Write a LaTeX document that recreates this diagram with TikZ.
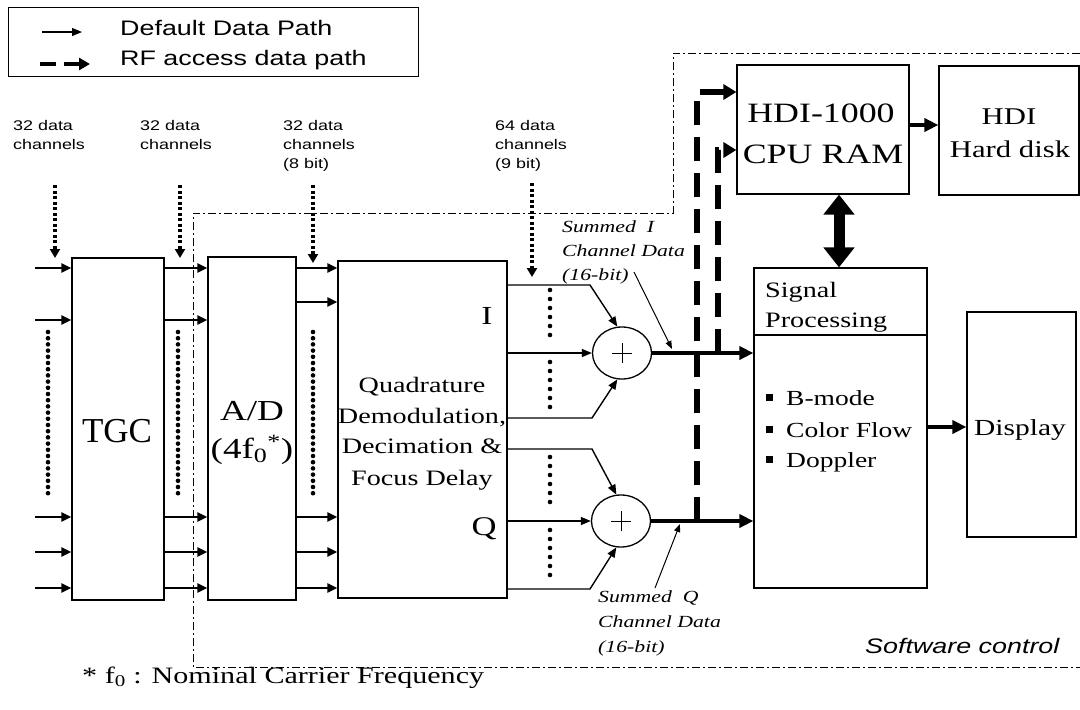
\documentclass[tikz,border=0pt]{standalone}
\usepackage{fontspec}
\setmainfont{Liberation Serif}[FakeStretch=1.28]
\setsansfont{Liberation Sans}[FakeStretch=1.28]
\newfontfamily\plainserif{Liberation Serif}
\usetikzlibrary{arrows.meta,shapes.geometric}
\newcommand\myfs[1]{\fontsize{#1}{#1}\selectfont}
\begin{document}
\begin{tikzpicture}[x=1pt,y=-1pt,
  box/.style={draw, line width=1.2pt, inner sep=0pt},
  sumnode/.style={draw, ellipse, line width=1.3pt, inner sep=0pt, minimum width=59pt, minimum height=52pt},
  txt/.style={inner sep=0pt, anchor=base},
  ltxt/.style={inner sep=0pt, anchor=base west},
  chl/.style={ltxt, font=\sffamily\myfs{14}},
  ann/.style={ltxt, font=\itshape\myfs{17}},
  arr/.style={line width=2.6pt, -{Triangle[length=10pt,width=9pt]}},
  thinarr/.style={line width=1.4pt, -{Triangle[length=10pt,width=8pt]}},
  ptr/.style={line width=1pt, -{Triangle[length=8pt,width=6pt]}},
  bigarr/.style={line width=4pt, -{Triangle[length=14pt,width=13pt]}},
  dotarr/.style={line width=3.3pt, dash pattern=on 3pt off 2.5pt, -{Triangle[length=9pt,width=10pt]}},
  dotcol/.style={line width=4.6pt, line cap=round, dash pattern=on 0pt off 6.2pt},
  dotcolb/.style={line width=4.6pt, line cap=round, dash pattern=on 0pt off 9pt},
  tdash/.style={line width=6pt, dash pattern=on 24pt off 12pt, -{Triangle[length=13pt,width=15pt]}},
  legdash/.style={line width=4pt, dash pattern=on 16pt off 8pt, -{Triangle[length=11pt,width=12pt]}},
  dbl/.style={line width=11pt, {Triangle[length=20pt,width=30pt]}-{Triangle[length=20pt,width=30pt]}},
  swline/.style={line width=1pt, dash pattern=on 8pt off 3pt on 2pt off 3pt}
]
\useasboundingbox (0,0) rectangle (1080,710);
\fill[white] (0,0) rectangle (1080,710);

% legend
\node[box, anchor=north west, minimum width=410pt, minimum height=69pt] (legend) at (8,7) {};
\node[ltxt, font=\sffamily\myfs{21}] (lg1) at (120,35) {Default Data Path};
\node[ltxt, font=\sffamily\myfs{21}] (lg2) at (120,65) {RF access data path};
\coordinate (la1) at (42,32); \coordinate (lb1) at (82,32);
\draw[thinarr, line width=1.2pt] (la1) -- (lb1);
\coordinate (la2) at (40,64); \coordinate (lb2) at (90,64);
\draw[legdash] (la2) -- (lb2);

% channel labels
\node[chl] (c1a) at (13,130) {32 data};
\node[chl] (c1b) at (13,149) {channels};
\node[chl] (c2a) at (140,130) {32 data};
\node[chl] (c2b) at (140,149) {channels};
\node[chl] (c3a) at (283,130) {32 data};
\node[chl] (c3b) at (283,149) {channels};
\node[chl] (c3c) at (283,168) {(8 bit)};
\node[chl] (c4a) at (495,130) {64 data};
\node[chl] (c4b) at (495,149) {channels};
\node[chl] (c4c) at (495,168) {(9 bit)};

% software control boundary
\draw[swline] (1080,53) -- (673,53) -- (673,213) -- (193,213) -- (193,667) -- (1080,667);
\node[ltxt, font=\sffamily\itshape\myfs{21}] (swc) at (865,653) {Software control};

% boxes
\node[box, minimum width=92pt, minimum height=342pt] (tgc) at (118,429) {};
\node[box, minimum width=88pt, minimum height=343pt] (ad) at (252,428.5) {};
\node[box, minimum width=169pt, minimum height=337pt] (qd) at (422.5,429.5) {};
\node[box, minimum width=172pt, minimum height=129pt] (hdi) at (823,129.5) {};
\node[box, minimum width=140pt, minimum height=129pt] (hd) at (1009,130.5) {};
\node[box, minimum width=173pt, minimum height=320pt] (sp) at (840.5,428) {};
\node[box, minimum width=109pt, minimum height=225pt] (disp) at (1021.5,424.5) {};
\node[sumnode] (sumI) at (622,353) {};
\node[sumnode] (sumQ) at (621,521) {};
\draw[line width=1.2pt] (sp.west |- 0,335) -- (sp.east |- 0,335);
\draw[line width=0.8pt] ([xshift=-10pt]sumI.center) -- ([xshift=10pt]sumI.center)
  ([yshift=-10pt]sumI.center) -- ([yshift=10pt]sumI.center);
\draw[line width=0.8pt] ([xshift=-10pt]sumQ.center) -- ([xshift=10pt]sumQ.center)
  ([yshift=-10pt]sumQ.center) -- ([yshift=10pt]sumQ.center);

% box texts
\node[txt, font=\plainserif\myfs{35}] (tgct) at (117,442) {TGC};
\node[txt, font=\myfs{29}] (adt1) at (252,420) {A/D};
\node[txt, font=\myfs{29}] (adt2) at (252,458) {(4f\textsubscript{0}\textsuperscript{*})};
\node[txt, font=\myfs{22}] (qdt1) at (422,392) {Quadrature};
\node[txt, font=\myfs{22}] (qdt2) at (422,423) {Demodulation,};
\node[txt, font=\myfs{22}] (qdt3) at (422,453) {Decimation \&};
\node[txt, font=\myfs{22}] (qdt4) at (422,485) {Focus Delay};
\node[txt, font=\myfs{26}] (ilbl) at (487,324) {I};
\node[txt, font=\myfs{27}] (qlbl) at (484,535) {Q};
\node[txt, font=\myfs{28}] (hdit1) at (821,122) {HDI-1000};
\node[txt, font=\myfs{28}] (hdit2) at (823,163) {CPU RAM};
\node[txt, font=\myfs{24}] (hdt1) at (1009,124) {HDI};
\node[txt, font=\myfs{24}] (hdt2) at (1010,157) {Hard disk};
\node[ltxt, font=\myfs{22}] (spt1) at (765,297) {Signal};
\node[ltxt, font=\myfs{22}] (spt2) at (765,327) {Processing};
\node[ltxt, font=\myfs{21.5}] (b1) at (766,405) {\raisebox{4pt}{\rule{7pt}{7pt}}\hspace{13pt}B-mode};
\node[ltxt, font=\myfs{21.5}] (b2) at (766,437) {\raisebox{4pt}{\rule{7pt}{7pt}}\hspace{13pt}Color Flow};
\node[ltxt, font=\myfs{21.5}] (b3) at (766,467) {\raisebox{4pt}{\rule{7pt}{7pt}}\hspace{13pt}Doppler};
\node[txt, font=\myfs{23}] (dispt) at (1020,435) {Display};
\node[ltxt, font=\myfs{23.5}] (foot) at (82,683) {* f\textsubscript{0} : Nominal Carrier Frequency};

% annotations
\node[ann] (aI1) at (562,232) {Summed\ \ I};
\node[ann] (aI2) at (562,256) {Channel Data};
\node[ann] (aI3) at (562,280) {(16-bit)};
\node[ann] (aQ1) at (598,602) {Summed\ \ Q};
\node[ann] (aQ2) at (598,627) {Channel Data};
\node[ann] (aQ3) at (598,652) {(16-bit)};
\coordinate (pI0) at (634,272); \coordinate (pI1) at (672,349);
\draw[ptr] (pI0) -- (pI1);
\coordinate (pQ0) at (655,588); \coordinate (pQ1) at (680,524);
\draw[ptr] (pQ0) -- (pQ1);

% input / inter-stage arrows
\foreach \y in {268,320,517,552,588} {
  \coordinate (in\y) at (35,\y);
  \draw[arr] (in\y) -- (in\y -| tgc.west);
  \draw[arr] (tgc.east |- 0,\y) -- (ad.west |- 0,\y);
}
\foreach \y in {268,302,517,552,588} {
  \draw[arr] (ad.east |- 0,\y) -- (qd.west |- 0,\y);
}
% dotted arrows from labels
\coordinate (d1) at (55,185); \draw[dotarr] (d1) -- (d1 |- 0,258);
\coordinate (d2) at (180,185); \draw[dotarr] (d2) -- (d2 |- 0,258);
\coordinate (d3) at (313,185); \draw[dotarr] (d3) -- (d3 |- 0,263);
\coordinate (d4) at (532,183); \draw[dotarr] (d4) -- (d4 |- 0,277);
% dot columns
\draw[dotcol] (48,332) -- (48,497);
\draw[dotcol] (178,332) -- (178,497);
\draw[dotcol] (313,332) -- (313,497);
\draw[dotcolb] (550,290) -- (550,335);
\draw[dotcolb] (550,362) -- (550,407);
\draw[dotcolb] (550,457) -- (550,505);
\draw[dotcolb] (550,530) -- (550,577);

% QD to summers
\draw[thinarr] (qd.east |- 0,285) -- (590,285) -- (sumI.100);
\draw[thinarr] (qd.east |- sumI.west) -- (sumI.west);
\draw[thinarr] (qd.east |- 0,418) -- (592,418) -- (sumI.260);
\draw[thinarr] (qd.east |- 0,449) -- (592,449) -- (sumQ.100);
\draw[thinarr] (qd.east |- sumQ.west) -- (sumQ.west);
\draw[thinarr] (qd.east |- 0,589) -- (590,589) -- (sumQ.260);

% summers to signal processing
\draw[bigarr] (sumI.east) -- (sumI.east -| sp.west);
\draw[bigarr] (sumQ.east) -- (sumQ.east -| sp.west);

% RF access dashed paths
\coordinate (tQ) at (697,521); \coordinate (cQ) at (697,92);
\draw[tdash] (tQ) -- (cQ) -- (cQ -| hdi.west);
\coordinate (tI) at (718,353); \coordinate (cI) at (718,150);
\draw[tdash] (tI) -- (cI) -- (cI -| hdi.west);

% other connectors
\draw[bigarr] (hdi.east |- 0,125) -- (hd.west |- 0,125);
\draw[bigarr] (sp.east |- 0,427) -- (disp.west |- 0,427);
\coordinate (dx) at (839,0);
\draw[dbl] (dx |- hdi.south) -- (dx |- sp.north);
\end{tikzpicture}
\end{document}
